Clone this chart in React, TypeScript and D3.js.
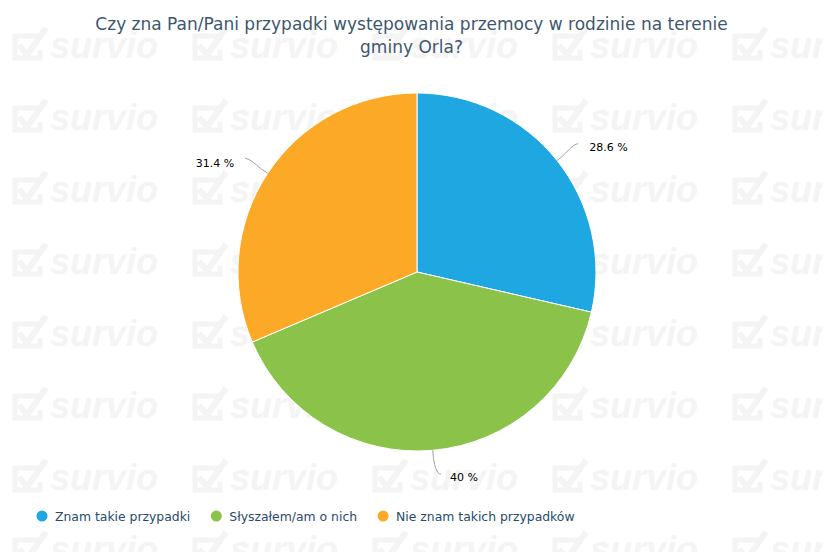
import React, { useEffect, useRef } from "react";
import * as d3 from "d3";

const categories = ["Znam takie przypadki", "Słyszałem/am o nich", "Nie znam takich przypadków"];
const values = [28.6, 40, 31.4];
const valueLabels = ["28.6 %", "40 %", "31.4 %"];
const colors = ["#1ea7e1", "#8bc34a", "#fba927"];
const titleLines = [
  "Czy zna Pan/Pani przypadki występowania przemocy w rodzinie na terenie",
  "gminy Orla?",
];

const W = 823;
const H = 552;

export default function App() {
  const ref = useRef<SVGSVGElement | null>(null);

  useEffect(() => {
    const svg = d3.select(ref.current);
    svg.selectAll("*").remove();

    svg.append("rect").attr("width", W).attr("height", H).attr("fill", "#ffffff");

    // watermark
    const wm = svg.append("g").attr("fill", "none");
    const rows = d3.range(8).map((k) => 58 + 72 * k);
    const cols = d3.range(5).map((j) => 50 + 180 * j);
    rows.forEach((y) => {
      cols.forEach((x) => {
        const g = wm.append("g").attr("transform", `translate(${x - 50},${y - 130})`);
        g.append("path")
          .attr("d", "M40 112 L40 108 L15 108 L15 130 L40 130 L40 122")
          .attr("stroke", "#f4f4f4")
          .attr("stroke-width", 5)
          .attr("fill", "none");
        g.append("path")
          .attr("d", "M19 117 L27 127 L46 100")
          .attr("stroke", "#f4f4f4")
          .attr("stroke-width", 6)
          .attr("fill", "none");
        g.append("text")
          .attr("x", 50)
          .attr("y", 130)
          .attr("font-family", "Liberation Sans, Arial, sans-serif")
          .attr("font-weight", "bold")
          .attr("font-style", "italic")
          .attr("font-size", 36)
          .attr("fill", "#f4f4f4")
          .text("survio");
      });
    });

    // title
    const title = svg
      .append("text")
      .attr("text-anchor", "middle")
      .attr("font-family", "DejaVu Sans, sans-serif")
      .attr("font-size", 17)
      .attr("fill", "#3e576f");
    titleLines.forEach((t, i) => {
      title.append("tspan").attr("x", W / 2).attr("y", 29.5 + i * 23).text(t);
    });

    // pie
    const cx = 417;
    const cy = 272;
    const r = 179;
    const pie = d3.pie<number>().sort(null).value((d) => d).startAngle(0).endAngle(2 * Math.PI);
    const arcs = pie(values);
    const arc = d3.arc<d3.PieArcDatum<number>>().innerRadius(0).outerRadius(r);
    const pg = svg.append("g").attr("transform", `translate(${cx},${cy})`);
    pg.selectAll("path.slice")
      .data(arcs)
      .join("path")
      .attr("class", "slice")
      .attr("d", arc)
      .attr("fill", (_, i) => colors[i])
      .attr("stroke", "#ffffff")
      .attr("stroke-width", 1)
      .attr("stroke-linejoin", "round");

    const pt = (a: number, rad: number) => [rad * Math.sin(a), -rad * Math.cos(a)];
    arcs.forEach((a, i) => {
      const mid = (a.startAngle + a.endAngle) / 2;
      const side = Math.sin(mid) >= 0 ? 1 : -1;
      const [lx0, ly0] = pt(mid, r + 27);
      const bottom = Math.cos(mid) < -0.9 ? 1 : 0;
      const lx = lx0 + bottom * side * 6;
      const ly = ly0 - bottom * 3;
      const [bx, by] = pt(mid, r + 6);
      const [tx, ty] = pt(mid, r);
      const path = `M${lx},${ly} C${lx - side * 5},${ly} ${2 * bx - tx},${2 * by - ty} ${bx},${by} L${tx},${ty}`;
      pg.append("path")
        .attr("d", path)
        .attr("fill", "none")
        .attr("stroke", "#a0a0a0")
        .attr("stroke-width", 1);
      pg.append("text")
        .attr("x", lx + side * (11 - bottom * 2))
        .attr("y", ly + 3 + (side < 0 ? 2 : 0))
        .attr("dy", "0.35em")
        .attr("text-anchor", side > 0 ? "start" : "end")
        .attr("font-family", "DejaVu Sans, sans-serif")
        .attr("font-size", 11)
        .attr("fill", "#000000")
        .text(valueLabels[i]);
    });

    // legend
    const lg = svg.append("g");
    let x = 36;
    const ly = 517;
    categories.forEach((c, i) => {
      lg.append("circle").attr("cx", x + 6).attr("cy", ly - 1).attr("r", 5.5).attr("fill", colors[i]);
      const t = lg
        .append("text")
        .attr("x", x + 19)
        .attr("y", ly + 4)
        .attr("font-family", "DejaVu Sans, sans-serif")
        .attr("font-size", 12.4)
        .attr("fill", "#274b6d")
        .text(c);
      const w = (t.node() as SVGTextElement).getComputedTextLength();
      x = x + 19 + w + 20;
    });
  }, []);

  return (
    <svg
      ref={ref}
      width={W}
      height={H}
      style={{ position: "absolute", left: 0, top: 0, display: "block" }}
    />
  );
}
